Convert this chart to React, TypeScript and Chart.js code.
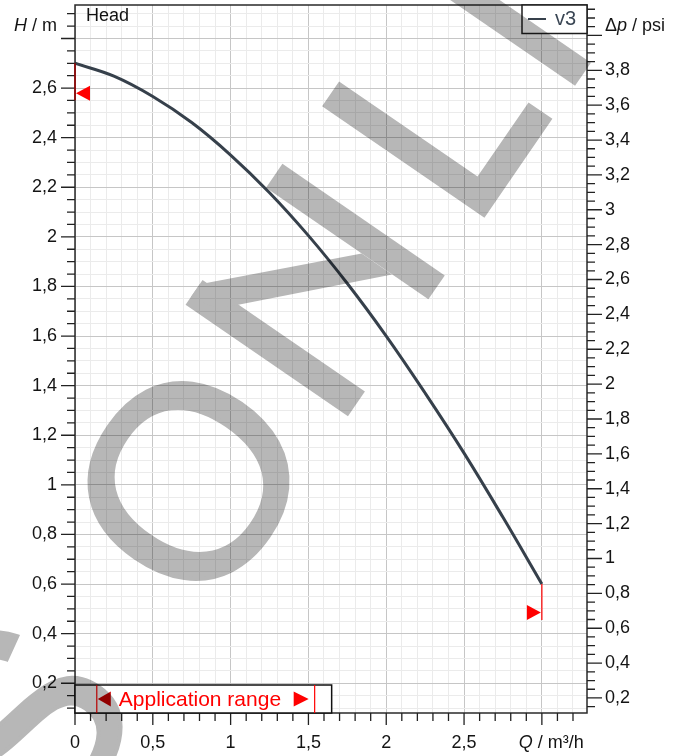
import React, { useEffect, useRef } from 'react';
import { Chart, registerables } from 'chart.js';

Chart.register(...registerables);

// ---- data ----
const FLOW = [0, 0.25, 0.5, 0.75, 1, 1.25, 1.5, 1.75, 2, 2.25, 2.5, 2.75, 3];
const HEAD = [2.7, 2.648, 2.566, 2.461, 2.33, 2.178, 2.005, 1.812, 1.6, 1.37, 1.128, 0.869, 0.6];
const SERIES_NAME = 'v3';

const X_RANGE = [0, 3.29];
const H_RANGE = [0.08, 2.935];
const M_TO_PSI = 1.4223;

const X_LABELS = [0, 0.5, 1, 1.5, 2, 2.5];
const H_LABELS = [0.2, 0.4, 0.6, 0.8, 1, 1.2, 1.4, 1.6, 1.8, 2, 2.2, 2.4, 2.6];
const PSI_LABELS = [0.2, 0.4, 0.6, 0.8, 1, 1.2, 1.4, 1.6, 1.8, 2, 2.2, 2.4, 2.6, 2.8, 3, 3.2, 3.4, 3.6, 3.8];

const X_STEPS = [0.1, 0.5];
const H_STEPS = [0.05, 0.2];
const PSI_STEPS = [0.05, 0.2];

const APP_RANGE = [0.14, 1.54];

const FONT = '"Liberation Sans", Arial, Helvetica, sans-serif';
const CURVE_COLOR = '#36404b';

// watermark shapes (letter frame, decorative)
const WM_POLYS: number[][][] = [
  [[-1, -197], [29, -197], [29, 0], [-1, 0]],
  [[8, -197], [24, -197], [141, -81], [141, -44], [14, -168]],
  [[141, -197], [170, -197], [170, 0], [141, 0]],
  [[240, -197], [270, -197], [270, -29], [360, -29], [360, 0], [240, 0]],
  [[400, -197], [428, -197], [428, 0], [400, 0]],
];

const steps = (min: number, max: number, step: number) => {
  const out: number[] = [];
  const s = Math.ceil(min / step - 1e-9);
  const e = Math.floor(max / step + 1e-9);
  for (let i = s; i <= e; i++) out.push(+(i * step).toFixed(4));
  return out;
};
const isMult = (v: number, step: number) => Math.abs(v / step - Math.round(v / step)) < 1e-6;
const fmt = (v: number) => String(+v.toFixed(2)).replace('.', ',');

const drawParts = (
  ctx: CanvasRenderingContext2D,
  parts: [string, boolean][],
  x: number,
  y: number,
  size: number,
  align: 'left' | 'right'
) => {
  const widths = parts.map(([t, it]) => {
    ctx.font = `${it ? 'italic ' : ''}${size}px ${FONT}`;
    return ctx.measureText(t).width;
  });
  const total = widths.reduce((a, b) => a + b, 0);
  let cx = align === 'left' ? x : x - total;
  ctx.textAlign = 'left';
  ctx.textBaseline = 'middle';
  parts.forEach(([t, it], i) => {
    ctx.font = `${it ? 'italic ' : ''}${size}px ${FONT}`;
    ctx.fillText(t, cx, y);
    cx += widths[i];
  });
};

const decorPlugin = {
  id: 'decor',
  afterDraw(chart: any) {
    const { ctx, chartArea: a, scales } = chart;
    const x = scales.x;
    const y = scales.y;
    const y2 = scales.y2;
    ctx.save();

    // frame
    ctx.strokeStyle = '#2a2a2a';
    ctx.lineWidth = 1.5;
    ctx.strokeRect(a.left, a.top, a.right - a.left, a.bottom - a.top);

    // ticks
    ctx.lineWidth = 1.3;
    ctx.strokeStyle = '#222';
    ctx.beginPath();
    steps(x.min, x.max, X_STEPS[0]).forEach((v) => {
      const px = x.getPixelForValue(v);
      const len = isMult(v, X_STEPS[1]) ? 12 : 8;
      ctx.moveTo(px, a.bottom);
      ctx.lineTo(px, a.bottom + len);
    });
    steps(y.min, y.max, H_STEPS[0]).forEach((v) => {
      const py = y.getPixelForValue(v);
      const len = isMult(v, H_STEPS[1]) ? 14 : 8;
      ctx.moveTo(a.left, py);
      ctx.lineTo(a.left - len, py);
    });
    steps(y2.min, y2.max, PSI_STEPS[0]).forEach((v) => {
      const py = y2.getPixelForValue(v);
      const len = isMult(v, PSI_STEPS[1]) ? 15 : 8;
      ctx.moveTo(a.right, py);
      ctx.lineTo(a.right + len, py);
    });
    ctx.stroke();

    // tick labels
    ctx.fillStyle = '#141414';
    ctx.font = `18px ${FONT}`;
    ctx.textBaseline = 'middle';
    ctx.textAlign = 'center';
    X_LABELS.forEach((v) => ctx.fillText(fmt(v), x.getPixelForValue(v), a.bottom + 30));
    ctx.textAlign = 'right';
    H_LABELS.forEach((v) => ctx.fillText(fmt(v), a.left - 18, y.getPixelForValue(v)));
    ctx.textAlign = 'left';
    PSI_LABELS.forEach((v) => ctx.fillText(fmt(v), a.right + 18, y2.getPixelForValue(v)));

    // axis titles
    drawParts(ctx, [['H', true], [' / m', false]], a.left - 18, a.top + 21, 18, 'right');
    drawParts(ctx, [['\u0394', false], ['p', true], [' / psi', false]], a.right + 18, a.top + 21, 18, 'left');
    drawParts(ctx, [['Q', true], [' / m\u00b3/h', false]], x.getPixelForValue(3) - 23, a.bottom + 30, 18, 'left');

    // "Head" title
    ctx.fillStyle = '#111';
    ctx.font = `18px ${FONT}`;
    ctx.textAlign = 'left';
    ctx.fillText('Head', a.left + 11, a.top + 11);

    // legend box
    const lbW = 65;
    const lbH = 28.5;
    ctx.fillStyle = '#fff';
    ctx.fillRect(a.right - lbW, a.top, lbW, lbH);
    ctx.strokeStyle = '#1e1e1e';
    ctx.lineWidth = 1.5;
    ctx.strokeRect(a.right - lbW, a.top, lbW, lbH);
    ctx.strokeStyle = CURVE_COLOR;
    ctx.lineWidth = 2;
    ctx.beginPath();
    ctx.moveTo(a.right - lbW + 6, a.top + 14);
    ctx.lineTo(a.right - lbW + 24, a.top + 14);
    ctx.stroke();
    ctx.fillStyle = '#3a4654';
    ctx.font = `20px ${FONT}`;
    ctx.textBaseline = 'middle';
    ctx.fillText(SERIES_NAME, a.right - lbW + 33, a.top + 14);

    // application range box
    const xa = x.getPixelForValue(APP_RANGE[0]);
    const xb = x.getPixelForValue(APP_RANGE[1]);
    const boxTop = a.bottom - 28;
    const boxMid = (boxTop + a.bottom) / 2;
    ctx.fillStyle = '#fff';
    ctx.fillRect(a.left, boxTop, xb + 17 - a.left, a.bottom - boxTop);
    ctx.strokeStyle = '#111';
    ctx.lineWidth = 1.5;
    ctx.strokeRect(a.left, boxTop, xb + 17 - a.left, a.bottom - boxTop);
    ctx.strokeStyle = '#f00';
    ctx.lineWidth = 1.2;
    ctx.beginPath();
    ctx.moveTo(xa, boxTop);
    ctx.lineTo(xa, a.bottom);
    ctx.moveTo(xb, boxTop);
    ctx.lineTo(xb, a.bottom);
    ctx.stroke();
    ctx.fillStyle = '#cc0000';
    ctx.beginPath();
    ctx.moveTo(xa + 1, boxMid);
    ctx.lineTo(xa + 14, boxMid - 7.5);
    ctx.lineTo(xa + 14, boxMid + 7.5);
    ctx.closePath();
    ctx.fill();
    ctx.fillStyle = '#f00';
    ctx.beginPath();
    ctx.moveTo(xb - 6, boxMid);
    ctx.lineTo(xb - 21, boxMid - 7.5);
    ctx.lineTo(xb - 21, boxMid + 7.5);
    ctx.closePath();
    ctx.fill();
    ctx.font = `21px ${FONT}`;
    ctx.textBaseline = 'middle';
    ctx.textAlign = 'left';
    ctx.fillText('Application range', xa + 22, boxMid + 1);

    // curve end markers
    const n = FLOW.length - 1;
    const sx = x.getPixelForValue(FLOW[0]);
    const sy = y.getPixelForValue(HEAD[0]);
    const ex = x.getPixelForValue(FLOW[n]);
    const ey = y.getPixelForValue(HEAD[n]);
    ctx.strokeStyle = '#a00000';
    ctx.lineWidth = 1.5;
    ctx.beginPath();
    ctx.moveTo(sx, sy);
    ctx.lineTo(sx, sy + 37);
    ctx.stroke();
    ctx.fillStyle = '#f00';
    ctx.beginPath();
    ctx.moveTo(sx + 1, sy + 30);
    ctx.lineTo(sx + 15, sy + 22.5);
    ctx.lineTo(sx + 15, sy + 37.5);
    ctx.closePath();
    ctx.fill();
    ctx.strokeStyle = '#f00';
    ctx.lineWidth = 1.2;
    ctx.beginPath();
    ctx.moveTo(ex, ey);
    ctx.lineTo(ex, ey + 36);
    ctx.stroke();
    ctx.beginPath();
    ctx.moveTo(ex - 1, ey + 28.5);
    ctx.lineTo(ex - 15, ey + 21);
    ctx.lineTo(ex - 15, ey + 36);
    ctx.closePath();
    ctx.fill();

    ctx.restore();

    // watermark
    const off = document.createElement('canvas');
    off.width = chart.width;
    off.height = chart.height;
    const o = off.getContext('2d') as CanvasRenderingContext2D;
    o.fillStyle = '#b7b7b7';
    o.strokeStyle = '#b7b7b7';
    o.lineWidth = 4;
    o.lineJoin = 'miter';
    o.translate(348.5, 415.5);
    o.rotate((-55.5 * Math.PI) / 180);
    o.font = `274px ${FONT}`;
    o.textAlign = 'left';
    o.textBaseline = 'alphabetic';
    const glyph = (ch: string, ax: number, by: number, mode: 'left' | 'center' | 'right') => {
      o.save();
      o.translate(ax, by);
      const m = o.measureText(ch);
      const l = -m.actualBoundingBoxLeft;
      const r = m.actualBoundingBoxRight;
      const dx = mode === 'left' ? -l + 2 : mode === 'right' ? -r - 2 : -(l + r) / 2;
      o.fillText(ch, dx, 0);
      o.strokeText(ch, dx, 0);
      o.restore();
    };
    glyph('S', -362, 0, 'right');
    glyph('O', -144, 0, 'center');
    WM_POLYS.forEach((poly) => {
      o.beginPath();
      poly.forEach(([px, py], i) => (i ? o.lineTo(px, py) : o.moveTo(px, py)));
      o.closePath();
      o.fill();
    });
    ctx.save();
    ctx.setTransform(1, 0, 0, 1, 0, 0);
    ctx.globalCompositeOperation = 'multiply';
    ctx.drawImage(off, 0, 0);
    ctx.restore();
  },
};

const gridColor = (major: number) => (c: any) =>
  c.tick && isMult(c.tick.value, major) ? '#c6c6c6' : '#ebebeb';

export default function App() {
  const ref = useRef<HTMLCanvasElement>(null);
  useEffect(() => {
    if (!ref.current) return;
    Chart.defaults.font.family = FONT;
    const chart = new Chart(ref.current, {
      type: 'line',
      data: {
        datasets: [
          {
            label: SERIES_NAME,
            data: FLOW.map((q, i) => ({ x: q, y: HEAD[i] })),
            borderColor: CURVE_COLOR,
            borderWidth: 3,
            pointRadius: 0,
            tension: 0.4,
            fill: false,
            yAxisID: 'y',
          },
        ],
      },
      options: {
        responsive: false,
        animation: false,
        layout: { padding: { top: 5, left: 0, right: 0, bottom: 0 }, autoPadding: false },
        plugins: { legend: { display: false }, tooltip: { enabled: false }, title: { display: false } },
        scales: {
          x: {
            type: 'linear',
            min: X_RANGE[0],
            max: X_RANGE[1],
            afterFit: (s: any) => {
              s.height = 43;
            },
            afterBuildTicks: (s: any) => {
              s.ticks = steps(X_RANGE[0], X_RANGE[1], X_STEPS[0]).map((v) => ({ value: v }));
            },
            ticks: { display: false },
            grid: { color: gridColor(X_STEPS[1]), lineWidth: 1, drawTicks: false },
            border: { display: false },
          },
          y: {
            type: 'linear',
            position: 'left',
            min: H_RANGE[0],
            max: H_RANGE[1],
            afterFit: (s: any) => {
              s.width = 75;
            },
            afterBuildTicks: (s: any) => {
              s.ticks = steps(H_RANGE[0], H_RANGE[1], H_STEPS[0]).map((v) => ({ value: v }));
            },
            ticks: { display: false },
            grid: { color: gridColor(H_STEPS[1]), lineWidth: 1, drawTicks: false },
            border: { display: false },
          },
          y2: {
            type: 'linear',
            position: 'right',
            min: H_RANGE[0] * M_TO_PSI,
            max: H_RANGE[1] * M_TO_PSI,
            afterFit: (s: any) => {
              s.width = 90;
            },
            ticks: { display: false },
            grid: { display: false, drawTicks: false },
            border: { display: false },
          },
        },
      } as any,
      plugins: [decorPlugin],
    });
    return () => chart.destroy();
  }, []);
  return (
    <div style={{ position: 'fixed', left: 0, top: 0, width: 677, height: 756, background: '#fff' }}>
      <canvas ref={ref} width={677} height={756} style={{ width: 677, height: 756, display: 'block' }} />
    </div>
  );
}
